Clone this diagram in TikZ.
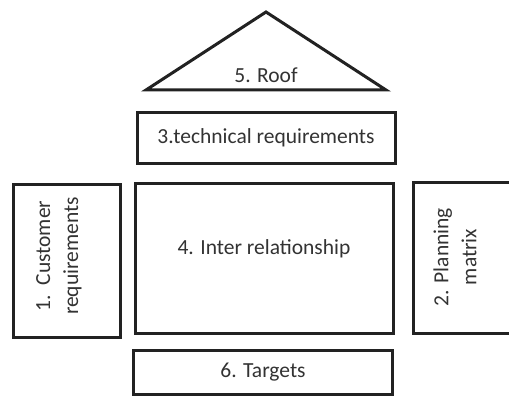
\documentclass[tikz,border=0pt]{standalone}
\usepackage{fontspec}
\setmainfont{Carlito}
\usepackage{xcolor}
\usetikzlibrary{positioning,calc}

\definecolor{inkline}{HTML}{222222}
\definecolor{inktext}{HTML}{333333}

\tikzset{
    qfdbox/.style={draw=inkline, line width=3pt, rectangle, inner sep=0pt},
    qfdtext/.style={text=inktext, font=\fontsize{21.5}{28}\selectfont, align=center}
}

\begin{document}
\begin{tikzpicture}[x=1pt, y=-1pt]
    \useasboundingbox [fill=white] (0, 0) rectangle (509, 396);

    % Roof
    \coordinate (apex) at (266, 12);
    \coordinate (eaveL) at (146, 90);
    \coordinate (eaveR) at (386, 90);
    \draw [draw=inkline, line width=3pt, line join=miter] (eaveL) -- (apex) -- (eaveR) -- cycle;
    \node [qfdtext] (rooftxt) at (266, 75) {5. Roof};

    % Technical requirements
    \node [qfdbox, minimum width=258pt, minimum height=51pt] (tech) at (266, 137.5) {};
    \node [qfdtext] (techtxt) at (tech.center) {3.technical requirements};

    % Inter relationship
    \node [qfdbox, minimum width=258pt, minimum height=150pt] (inter) at (264, 258) {};
    \node [qfdtext] (intertxt) at (264, 249) {4. Inter relationship};

    % Customer requirements
    \node [qfdbox, minimum width=107pt, minimum height=153pt] (cust) at (66.5, 260.5) {};
    \node [qfdtext, rotate=90] (custtxt) at (59, 256) {1.\ \ Customer\\requirements};

    % Planning matrix
    \node [qfdbox, minimum width=107pt, minimum height=151pt] (plan) at (466.5, 257.5) {};
    \node [qfdtext, rotate=90] (plantxt) at (455, 257) {2. Planning\\matrix};

    % Targets
    \node [qfdbox, minimum width=259pt, minimum height=44pt] (targ) at (263, 372) {};
    \node [qfdtext] (targtxt) at (263, 372) {6. Targets};
\end{tikzpicture}
\end{document}
